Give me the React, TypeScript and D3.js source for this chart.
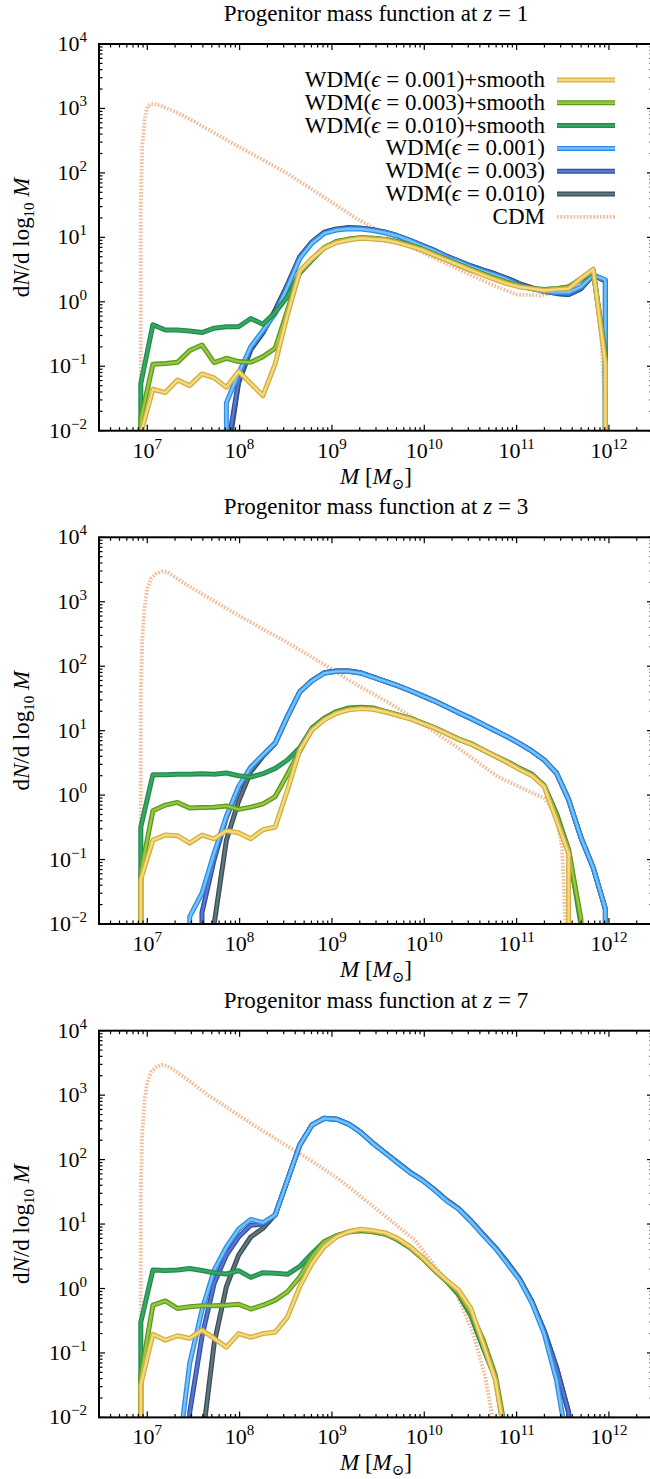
import React from 'react';
import * as d3 from 'd3';

// ---------- data ----------
const MASS = [8.51e6, 1.15e7, 1.57e7, 2.12e7, 2.88e7, 3.91e7, 5.30e7, 7.19e7, 9.75e7, 1.32e8, 1.79e8, 2.43e8, 3.30e8, 4.48e8, 6.08e8, 8.24e8, 1.12e9, 1.52e9, 2.06e9, 2.79e9, 3.78e9, 5.13e9, 6.97e9, 9.44e9, 1.28e10, 1.74e10, 2.36e10, 3.20e10, 4.34e10, 5.89e10, 7.98e10, 1.08e11, 1.47e11, 1.99e11, 2.70e11, 3.66e11, 4.97e11, 6.75e11, 9.15e11];

const REDSHIFTS = [1, 3, 7];

// z = 1
const Z1_SMOOTH_001 = [0.009, 0.044, 0.039, 0.061, 0.05, 0.076, 0.066, 0.047, 0.083, 0.054, 0.035, 0.11, 0.63, 3.0, 4.7, 6.8, 8.3, 9.1, 9.7, 9.4, 9.1, 8.3, 7.3, 6.4, 5.3, 4.45, 3.7, 3.1, 2.6, 2.2, 1.9, 1.7, 1.6, 1.5, 1.56, 1.6, 2.3, 3.2, 0.11];
const Z1_SMOOTH_003 = [0.015, 0.107, 0.11, 0.115, 0.175, 0.214, 0.114, 0.133, 0.118, 0.115, 0.141, 0.19, 0.74, 2.9, 4.6, 6.9, 8.5, 9.3, 9.8, 9.6, 9.2, 8.5, 7.5, 6.5, 5.4, 4.5, 3.7, 3.1, 2.7, 2.3, 2.0, 1.75, 1.6, 1.55, 1.6, 1.7, 2.3, 3.1, 0.13];
const Z1_SMOOTH_010 = [0.054, 0.44, 0.365, 0.365, 0.353, 0.333, 0.39, 0.41, 0.41, 0.55, 0.45, 0.68, 1.2, 2.8, 4.45, 6.9, 8.6, 9.4, 9.9, 9.7, 9.3, 8.6, 7.6, 6.6, 5.5, 4.6, 3.8, 3.2, 2.7, 2.3, 1.95, 1.75, 1.6, 1.55, 1.6, 1.7, 2.2, 3.0, 0.15];
const Z1_WDM_001 = [null, null, null, null, null, null, null, 0.027, 0.078, 0.2, 0.36, 0.66, 1.7, 4.7, 8.1, 11.5, 13, 13.6, 13.5, 12.8, 11.8, 10.5, 8.9, 7.4, 6.2, 5.0, 4.2, 3.5, 3.0, 2.6, 2.2, 1.8, 1.6, 1.44, 1.4, 1.4, 1.7, 2.6, 2.2];
const Z1_WDM_003 = [null, null, null, null, null, null, null, 0.004, 0.06, 0.19, 0.34, 0.72, 1.8, 4.9, 8.4, 11.8, 13.3, 14, 13.8, 13, 12, 10.6, 9.0, 7.5, 6.3, 5.1, 4.3, 3.6, 3.1, 2.7, 2.3, 1.9, 1.65, 1.45, 1.35, 1.3, 1.6, 2.6, 2.1];
const Z1_WDM_010 = [null, null, null, null, null, null, null, 0.003, 0.055, 0.18, 0.33, 0.75, 1.85, 5.0, 8.5, 12, 13.5, 14.2, 13.9, 13.1, 12, 10.6, 9.0, 7.5, 6.3, 5.1, 4.3, 3.6, 3.1, 2.7, 2.3, 1.9, 1.65, 1.45, 1.35, 1.3, 1.6, 2.6, 2.1];
const Z1_CDM_MASS = [8.5e6, 8.8e6, 9.4e6, 1.0e7, 1.1e7, 1.2e7, 1.4e7, 2.0e7, 3.2e7, 5.6e7, 1e8, 1.8e8, 3.2e8, 5.6e8, 1e9, 1.8e9, 3.2e9, 5.6e9, 1e10, 1.8e10, 3.2e10, 5.6e10, 1e11, 1.8e11, 3.2e11, 5e11, 6.8e11, 8e11, 9e11];
const Z1_CDM = [30, 250, 700, 1070, 1175, 1170, 1100, 890, 630, 400, 250, 158, 100, 60, 35, 20, 12.6, 8.3, 5.6, 3.8, 2.6, 1.8, 1.3, 1.25, 1.5, 2.0, 2.8, 0.6, 0.03];

// z = 3
const Z3_SMOOTH_001 = [0.049, 0.2, 0.24, 0.235, 0.18, 0.24, 0.21, 0.28, 0.26, 0.21, 0.29, 0.32, 1.2, 5.0, 10.2, 14.7, 18.6, 21, 22, 21.5, 19.5, 17.3, 15.3, 13, 11, 9.0, 7.3, 6.2, 5.0, 4.0, 3.2, 2.5, 2.0, 1.35, 0.41, 0.125];
const Z3_SMOOTH_003 = [0.062, 0.57, 0.7, 0.77, 0.63, 0.64, 0.65, 0.68, 0.6, 0.65, 0.73, 0.95, 2.1, 4.8, 10.5, 15.2, 19.2, 22, 22.5, 22, 19.8, 17.5, 15.5, 13.1, 11.1, 9.0, 7.3, 6.2, 5.0, 4.0, 3.2, 2.55, 2.05, 1.4, 0.5, 0.14, 0.012];
const Z3_SMOOTH_010 = [0.32, 2.07, 2.07, 2.1, 2.1, 2.15, 2.1, 2.2, 2.0, 1.9, 2.15, 2.6, 3.5, 5.4, 11, 15.6, 19.8, 22.5, 23, 22.5, 19.8, 17.6, 15.6, 13.2, 11.2, 9.1, 7.4, 6.3, 5.0, 4.05, 3.3, 2.6, 2.1, 1.4, 0.52, 0.14, 0.01];
const Z3_WDM_001 = [null, null, null, null, 0.013, 0.03, 0.126, 0.47, 1.36, 2.7, 4.2, 6.4, 16.6, 40, 59, 78, 83, 83, 78, 67, 58, 50, 42, 35, 29, 23.5, 19, 15.5, 12.5, 10, 8, 6.3, 4.8, 3.5, 2.2, 0.85, 0.22, 0.075, 0.017];
const Z3_WDM_003 = [null, null, null, null, null, 0.015, 0.1, 0.45, 1.3, 2.7, 4.2, 6.5, 16.8, 40, 60, 79, 84, 84, 79, 68, 58, 50, 42, 35, 29, 23.5, 19, 15.5, 12.5, 10, 8, 6.3, 4.8, 3.5, 2.2, 0.85, 0.22, 0.075, 0.017];
const Z3_WDM_010 = [null, null, null, null, null, null, 0.01, 0.2, 0.8, 2.3, 4.0, 6.3, 16.5, 40, 60, 79, 84, 84, 79, 68, 58, 50, 42, 35, 29, 23.5, 19, 15.5, 12.5, 10, 8, 6.3, 4.8, 3.5, 2.2, 0.85, 0.22, 0.075, 0.017];
const Z3_CDM_MASS = [8.5e6, 8.8e6, 9.4e6, 1.0e7, 1.1e7, 1.26e7, 1.45e7, 1.66e7, 2.0e7, 3.16e7, 1e8, 3.16e8, 9.1e8, 1.48e9, 3.98e9, 8.1e9, 2.24e10, 6.2e10, 1.26e11, 2.0e11, 2.63e11, 3.1e11, 3.24e11, 3.39e11];
const Z3_CDM = [32, 250, 890, 1580, 2290, 2750, 2950, 2880, 2400, 1580, 600, 240, 98, 62, 28, 14.8, 5.6, 1.95, 1.2, 0.89, 0.52, 0.16, 0.038, 0.008];

// z = 7
const Z7_SMOOTH_001 = [0.032, 0.195, 0.158, 0.185, 0.168, 0.226, 0.168, 0.123, 0.2, 0.175, 0.2, 0.21, 0.36, 1.07, 2.45, 4.45, 6.3, 7.6, 8.3, 7.9, 7.3, 6.0, 4.5, 3.1, 2.0, 1.35, 0.94, 0.49, 0.14, 0.038, 0.003];
const Z7_SMOOTH_003 = [0.043, 0.55, 0.64, 0.49, 0.52, 0.54, 0.54, 0.55, 0.57, 0.48, 0.55, 0.66, 0.89, 1.5, 3.1, 5.3, 6.6, 7.5, 7.9, 7.6, 7.0, 5.8, 4.4, 3.0, 1.95, 1.3, 0.85, 0.42, 0.16, 0.045, 0.004];
const Z7_SMOOTH_010 = [0.30, 1.93, 1.9, 1.93, 2.04, 1.9, 1.76, 1.68, 1.89, 1.49, 1.76, 1.72, 1.66, 2.2, 3.5, 5.3, 6.5, 7.6, 8.1, 7.6, 7.0, 5.7, 4.3, 3.0, 1.95, 1.3, 0.8, 0.38, 0.12, 0.04, 0.003];
const Z7_WDM_001 = [null, null, null, 0.002, 0.069, 0.46, 1.93, 4.4, 8.3, 11.8, 10.5, 13.8, 48, 168, 343, 436, 422, 355, 263, 178, 126, 89, 63, 48, 34, 23, 17, 11, 6.7, 4.2, 2.4, 1.35, 0.59, 0.2, 0.038, 0.003];
const Z7_WDM_003 = [null, null, null, null, 0.012, 0.18, 1.2, 3.3, 6.3, 9.6, 10, 13.8, 48, 168, 345, 438, 424, 356, 264, 179, 127, 90, 64, 48.5, 34.5, 23.5, 17.3, 11.2, 6.9, 4.3, 2.5, 1.4, 0.62, 0.22, 0.06, 0.012];
const Z7_WDM_010 = [null, null, null, null, null, 0.004, 0.14, 1.07, 3.3, 6.3, 8.6, 14, 48, 168, 345, 438, 424, 356, 264, 179, 127, 90, 64, 48.5, 34.5, 23.5, 17.3, 11.2, 6.9, 4.3, 2.5, 1.4, 0.62, 0.22, 0.06, 0.012];
const Z7_CDM_MASS = [8.5e6, 8.8e6, 9.4e6, 1.0e7, 1.1e7, 1.26e7, 1.45e7, 1.66e7, 2.0e7, 4.57e7, 1.55e8, 6.03e8, 1.23e9, 3.31e9, 7.94e9, 1.2e10, 2.24e10, 3.39e10, 4.57e10, 5.62e10];
const Z7_CDM = [32, 250, 890, 1580, 2290, 2750, 2950, 2820, 2400, 1000, 316, 95, 48, 15.5, 5.6, 2.6, 0.83, 0.2, 0.043, 0.008];

const LEGEND_EPS = ['0.001', '0.003', '0.010', '0.001', '0.003', '0.010'];

// ---------- styling / layout ----------
const W = 650;
const H = 1479;
const X0 = 99;
const X1 = 653;
const PANEL_TOPS = [44, 537.3, 1030.7];
const PANEL_H = 386.7;
const FONT = "'Liberation Serif', 'DejaVu Serif', serif";
const CDM_COLOR = '#f0bd9b';

type Style = { outer: string; inner: string; smooth: boolean };
const STYLES: Record<string, Style> = {
  s001: { outer: '#d3ad3f', inner: '#f4da7e', smooth: true },
  s003: { outer: '#5e981e', inner: '#93c843', smooth: true },
  s010: { outer: '#248a4e', inner: '#37a864', smooth: true },
  w001: { outer: '#2f8be3', inner: '#74c4fb', smooth: false },
  w003: { outer: '#34519f', inner: '#5977d2', smooth: false },
  w010: { outer: '#3a4e56', inner: '#60767e', smooth: false },
};
const LEGEND_KEYS = ['s001', 's003', 's010', 'w001', 'w003', 'w010'];
const DRAW_ORDER = ['w010', 'w003', 'w001', 's010', 's003', 's001'];

const PANEL_DATA: Record<string, (number | null)[]>[] = [
  { s001: Z1_SMOOTH_001, s003: Z1_SMOOTH_003, s010: Z1_SMOOTH_010, w001: Z1_WDM_001, w003: Z1_WDM_003, w010: Z1_WDM_010 },
  { s001: Z3_SMOOTH_001, s003: Z3_SMOOTH_003, s010: Z3_SMOOTH_010, w001: Z3_WDM_001, w003: Z3_WDM_003, w010: Z3_WDM_010 },
  { s001: Z7_SMOOTH_001, s003: Z7_SMOOTH_003, s010: Z7_SMOOTH_010, w001: Z7_WDM_001, w003: Z7_WDM_003, w010: Z7_WDM_010 },
];
const CDM_DATA = [
  { m: Z1_CDM_MASS, v: Z1_CDM },
  { m: Z3_CDM_MASS, v: Z3_CDM },
  { m: Z7_CDM_MASS, v: Z7_CDM },
];

const X_MAJOR = [1e7, 1e8, 1e9, 1e10, 1e11, 1e12];
const Y_MAJOR = [1e-2, 1e-1, 1e0, 1e1, 1e2, 1e3, 1e4];

function buildPath(masses: number[], values: (number | null | undefined)[], x: any, y: any, bottom: number) {
  const pts: [number, number][] = [];
  masses.forEach((m, i) => {
    const v = values[i];
    if (v != null) pts.push([x(m), y(v)]);
  });
  if (!pts.length) return '';
  const below = bottom + 60;
  const all: [number, number][] = [[pts[0][0], below], ...pts, [pts[pts.length - 1][0], below]];
  return d3.line()(all) || '';
}

function expLabel(e: number) {
  return e < 0 ? '\u2212' + Math.abs(e) : String(e);
}

function Panel({ idx }: { idx: number }) {
  const top = PANEL_TOPS[idx];
  const bottom = top + PANEL_H;
  const x = d3.scaleLog().domain([3e6, 3e12]).range([X0, X1]);
  const y = d3.scaleLog().domain([1e-2, 1e4]).range([bottom, top]);
  const clipId = `clip${idx}`;
  const data = PANEL_DATA[idx];
  const cdm = CDM_DATA[idx];

  const xMinor: number[] = [];
  for (let e = 6; e <= 12; e++) {
    for (let k = 2; k <= 9; k++) {
      const v = k * Math.pow(10, e);
      if (v > 3e6 && v < 3e12) xMinor.push(v);
    }
  }
  const yMinor: number[] = [];
  for (let e = -2; e < 4; e++) {
    for (let k = 2; k <= 9; k++) yMinor.push(k * Math.pow(10, e));
  }
  const cx = (X0 + X1) / 2;
  const cy = (top + bottom) / 2;

  return (
    <g>
      <defs>
        <clipPath id={clipId}>
          <rect x={X0} y={top} width={X1 - X0} height={PANEL_H} />
        </clipPath>
      </defs>
      <text x={cx} y={top - 23} textAnchor="middle" fontSize={23} fontFamily={FONT}>
        Progenitor mass function at <tspan fontStyle="italic">z</tspan> = {REDSHIFTS[idx]}
      </text>
      <g clipPath={`url(#${clipId})`}>
        <path d={buildPath(cdm.m, cdm.v, x, y, bottom)} fill="none" stroke={CDM_COLOR} strokeWidth={3.8} strokeDasharray="1.7 1.6" />
        {DRAW_ORDER.map((key) => {
          const st = STYLES[key];
          const d = buildPath(MASS, data[key], x, y, bottom);
          return (
            <g key={key}>
              <path d={d} fill="none" stroke={st.outer} strokeWidth={5} strokeLinejoin="round" />
              <path d={d} fill="none" stroke={st.inner} strokeWidth={2.4} strokeLinejoin="round" />
            </g>
          );
        })}
      </g>
      <g stroke="#000" strokeWidth={1.2}>
        {X_MAJOR.map((v) => (
          <g key={'xm' + v}>
            <line x1={x(v)} x2={x(v)} y1={bottom} y2={bottom - 6} />
            <line x1={x(v)} x2={x(v)} y1={top} y2={top + 6} />
          </g>
        ))}
        {xMinor.map((v) => (
          <g key={'xn' + v}>
            <line x1={x(v)} x2={x(v)} y1={bottom} y2={bottom - 3.5} />
            <line x1={x(v)} x2={x(v)} y1={top} y2={top + 3.5} />
          </g>
        ))}
        {Y_MAJOR.map((v) => (
          <g key={'ym' + v}>
            <line x1={X0} x2={X0 + 6} y1={y(v)} y2={y(v)} />
            <line x1={X1} x2={X1 - 6} y1={y(v)} y2={y(v)} />
          </g>
        ))}
        {yMinor.map((v) => (
          <g key={'yn' + v}>
            <line x1={X0} x2={X0 + 3.5} y1={y(v)} y2={y(v)} />
            <line x1={X1} x2={X1 - 3.5} y1={y(v)} y2={y(v)} />
          </g>
        ))}
      </g>
      <rect x={X0} y={top} width={X1 - X0} height={PANEL_H} fill="none" stroke="#000" strokeWidth={2} />
      <g fontFamily={FONT} fontSize={22}>
        {X_MAJOR.map((v) => (
          <text key={'xl' + v} x={x(v)} y={bottom + 27} textAnchor="middle">
            10<tspan fontSize={15} dy={-9}>{expLabel(Math.round(Math.log10(v)))}</tspan>
          </text>
        ))}
        {Y_MAJOR.map((v) => (
          <text key={'yl' + v} x={87} y={y(v) + 7} textAnchor="end">
            10<tspan fontSize={15} dy={-9}>{expLabel(Math.round(Math.log10(v)))}</tspan>
          </text>
        ))}
      </g>
      <text x={cx} y={bottom + 53} textAnchor="middle" fontFamily={FONT} fontSize={23}>
        <tspan fontStyle="italic">M</tspan> [<tspan fontStyle="italic">M</tspan>
        <tspan fontSize={15} dy={5}>⊙</tspan>
        <tspan dy={-5}>]</tspan>
      </text>
      <text transform={`translate(29,${cy}) rotate(-90)`} textAnchor="middle" fontFamily={FONT} fontSize={23}>
        d<tspan fontStyle="italic">N</tspan>/d log<tspan fontSize={15} dy={5}>10</tspan>
        <tspan dy={-5}> </tspan>
        <tspan fontStyle="italic">M</tspan>
      </text>
      {idx === 0 && <Legend top={top} />}
    </g>
  );
}

function Legend({ top }: { top: number }) {
  const rows = [...LEGEND_KEYS, 'cdm'];
  return (
    <g fontFamily={FONT} fontSize={23}>
      {rows.map((key, i) => {
        const yy = top + 36 + i * 22.8;
        const isCdm = key === 'cdm';
        return (
          <g key={key}>
            <text x={545} y={yy + 7} textAnchor="end">
              {isCdm ? (
                'CDM'
              ) : (
                <>
                  WDM(<tspan fontStyle="italic">ϵ</tspan> = {LEGEND_EPS[i]}){STYLES[key].smooth ? '+smooth' : ''}
                </>
              )}
            </text>
            {isCdm ? (
              <line x1={557} x2={615} y1={yy} y2={yy} stroke={CDM_COLOR} strokeWidth={3.8} strokeDasharray="1.7 1.6" />
            ) : (
              <g>
                <line x1={557} x2={615} y1={yy} y2={yy} stroke={STYLES[key].outer} strokeWidth={5} />
                <line x1={557} x2={615} y1={yy} y2={yy} stroke={STYLES[key].inner} strokeWidth={2.4} />
              </g>
            )}
          </g>
        );
      })}
    </g>
  );
}

export default function App() {
  return (
    <svg
      width={W}
      height={H}
      viewBox={`0 0 ${W} ${H}`}
      style={{ position: 'absolute', left: 0, top: 0, background: '#fff' }}
    >
      <rect x={0} y={0} width={W} height={H} fill="#fff" />
      {[0, 1, 2].map((i) => (
        <Panel key={i} idx={i} />
      ))}
    </svg>
  );
}
